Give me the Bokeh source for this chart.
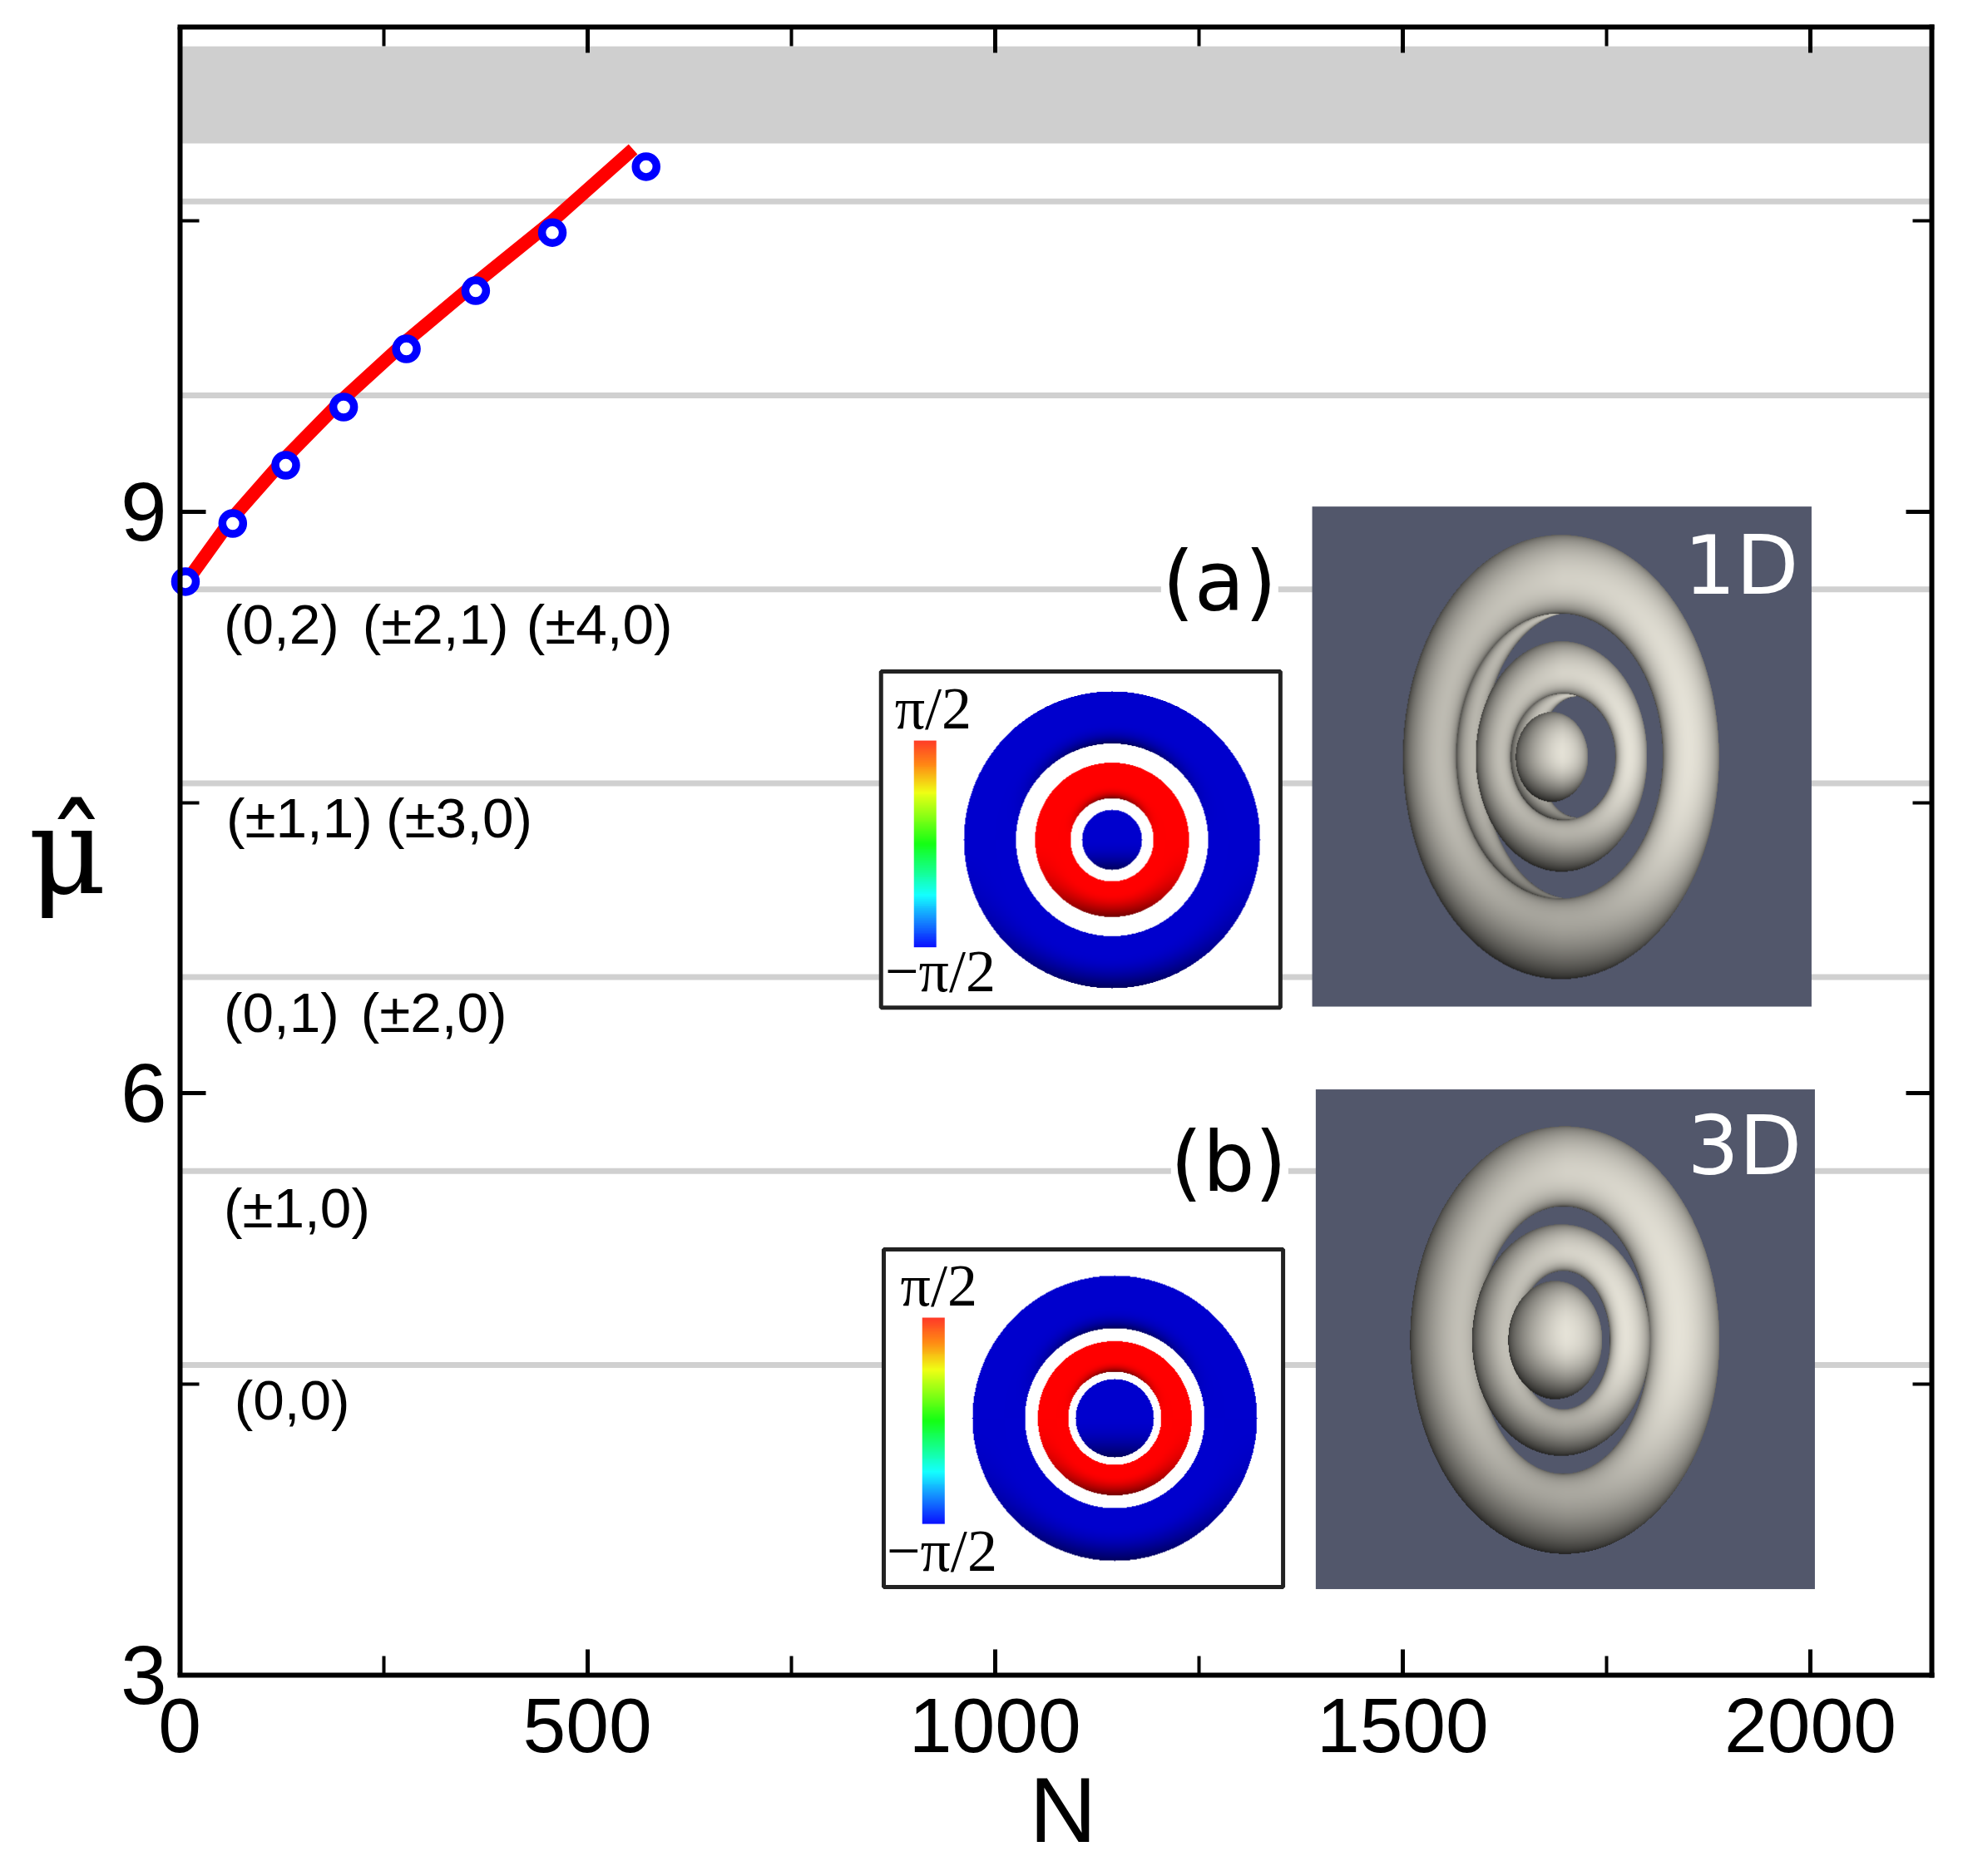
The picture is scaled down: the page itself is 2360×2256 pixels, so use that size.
from bokeh.core.properties import value
from bokeh.embed import file_html
from bokeh.models import FixedTicker, LinearAxis, Range1d, Title
from bokeh.plotting import figure
from bokeh.resources import INLINE
import numpy as np

# values
line_n = [5, 65, 130, 200, 278, 363, 457, 556]
line_mu = [8.62, 8.97, 9.28, 9.58, 9.88, 10.18, 10.50, 10.87]
point_n = [7, 65, 130, 201, 278, 363, 457, 572]
point_mu = [8.64, 8.94, 9.24, 9.54, 9.84, 10.14, 10.44, 10.78]
levels = [4.6, 5.6, 6.6, 7.6, 8.6, 9.6, 10.6]
band = [10.9, 11.4]

n_max = 2149
x_major = [0, 500, 1000, 1500, 2000]
x_minor = [250, 750, 1250, 1750]
y_major = [3, 6, 9]
y_minor = [4.5, 7.5, 10.5]

mode_text = ["(0,2)", "(±2,1)", "(±4,0)", "(±1,1)", "(±3,0)", "(0,1)", "(±2,0)", "(±1,0)", "(0,0)"]
mode_x = [54, 224, 425, 57, 253, 54, 222, 54, 67]
mode_y = [8.42, 8.42, 8.42, 7.42, 7.42, 6.42, 6.42, 5.41, 4.42]

panel_text = ["(a)", "(b)"]
panel_x = [1205, 1215]
panel_y = [8.64, 5.645]
dim_text = ["1D", "3D"]
dim_x = [1845, 1849]
dim_y = [8.725, 5.73]
bar_text = ["π/2", "−π/2", "π/2", "−π/2"]
bar_x = [877, 865, 884, 867]
bar_y = [7.985, 6.63, 5.01, 3.64]

# screen px per data unit, used for the inset pictures
px_x = 0.98
px_y = 233.2

# inset boxes, x0 x1 y0 y1 in data units
box_a = [860.2, 1350, 6.443, 8.176]
box_b = [863.5, 1353.3, 3.4545, 5.196]
cbar_a = [900.5, 928, 6.754, 7.82]
cbar_b = [910.7, 938.3, 3.78, 4.844]
view_a = [1389, 2001.5, 6.448, 9.027]
view_b = [1393.4, 2005.6, 3.444, 6.021]

# radii in px of the phase pictures: blue out, gap, red out, red in, blue in
disk_a = dict(x=1143, y=7.308, r=[178, 115.5, 92.5, 50, 36])
disk_b = dict(x=1146.3, y=4.325, r=[171, 108, 92.5, 56, 47])

# rings in px from view centre: outer ellipse, then hole (cx, cy, a, b)
rings_a = [((-3.5, -1, 124.5, 172), (12.7, -1.4, 108.5, 172)),
           ((-1.6, 0, 190, 267), (-3.5, -1, 124, 171.5)),
           ((0.8, 0, 63.5, 76.5), (18, 0, 46, 72.6)),
           ((-1, -0.6, 103, 138.5), (0.8, 0, 63, 76))]
ball_a = (-12.6, 0, 43.5, 54)
rings_b = [((-1.2, 1, 186, 256.7), (-3, 1, 103, 160.5)),
           ((-5.6, 1, 107, 139), (-3, 1, 56, 83))]
ball_b = (-12.7, 1, 56.5, 71)

bar_stops = [0, 0.12, 0.25, 0.5, 0.62, 0.75, 0.87, 1]
bar_r = [255, 255, 240, 20, 20, 20, 20, 10]
bar_g = [60, 140, 255, 255, 255, 255, 140, 20]
bar_b = [40, 20, 20, 20, 130, 255, 255, 255]

surface = np.array([232, 229, 218])
view_bg = np.array([82, 87, 107])


def to_rgba(rgb):
    h, w = rgb.shape[:2]
    out = np.full((h, w, 4), 255, dtype=np.uint8)
    out[:, :, :3] = np.clip(rgb, 0, 255).astype(np.uint8)
    return out[::-1].view(dtype=np.uint32).reshape(h, w)


def ring_normal(X, Y, outer, hole):
    d_o = np.hypot((X - outer[0]) / outer[2], (Y - outer[1]) / outer[3])
    if hole is None:
        mask = d_o <= 1
        s = np.clip(d_o, 0, 1)
    else:
        d_i = np.hypot((X - hole[0]) / hole[2], (Y - hole[1]) / hole[3])
        mask = (d_o <= 1) & (d_i >= 1)
        t = (d_i - 1) / np.maximum(d_i - d_o, 1e-6)
        s = 2 * np.clip(t, 0, 1) - 1
    rx = (X - outer[0]) / outer[2] ** 2
    ry = (Y - outer[1]) / outer[3] ** 2
    rn = np.maximum(np.hypot(rx, ry), 1e-9)
    return mask, s * rx / rn, s * ry / rn, np.sqrt(np.maximum(1 - s * s, 0))


def render_view(view, rings, ball):
    w = int(round((view[1] - view[0]) * px_x))
    h = int(round((view[3] - view[2]) * px_y))
    Y, X = np.mgrid[0:h, 0:w]
    X = X - w / 2
    Y = Y - h / 2
    rgb = np.ones((h, w, 3)) * view_bg
    for outer, hole in rings + [(ball, None)]:
        mask, nx, ny, nz = ring_normal(X, Y, outer, hole)
        shade = np.clip(0.35 + 0.65 * (0.15 * nx - 0.15 * ny + 0.97 * nz), 0.3, 1)
        # rough light falloff seen in the render: dark below, greyer left and top
        fx = np.clip(-X / outer[2], 0, 1)
        fy = np.clip(Y / outer[3], -1, 1)
        shade = shade * (1 - 0.22 * fx) * (1 - 0.48 * np.clip(fy, 0, 1) ** 2) * (1 - 0.12 * np.clip(-fy, 0, 1) ** 2)
        rgb[mask] = (shade[:, :, None] * surface)[mask]
    return to_rgba(rgb)


def render_disk(radii):
    n = int(radii[0]) * 2 + 2
    Y, X = np.mgrid[0:n, 0:n]
    X = X - n / 2
    Y = Y - n / 2
    rgb = np.ones((n, n, 3)) * 255
    parts = [(radii[0], radii[1], (0, 0, 205)), (radii[2], radii[3], (255, 0, 0)), (radii[4], None, (0, 0, 205))]
    for ro, ri, col in parts:
        outer = (0, 0, ro, ro)
        hole = None if ri is None else (0, 0, ri, ri)
        mask, nx, ny, nz = ring_normal(X, Y, outer, hole)
        shade = 1 - 0.55 * np.clip(ny, 0, 1) ** 2
        rgb[mask] = (shade[:, :, None] * np.array(col))[mask]
    return to_rgba(rgb)


def render_bar():
    t = np.linspace(0, 1, 128)
    col = np.stack([np.interp(t, bar_stops, c) for c in (bar_r, bar_g, bar_b)], axis=1)
    return to_rgba(col[:, None, :])


# x range starts below 0 so the first marker can sit over the left axis
p = figure(width=2352, height=2248, output_backend="svg", toolbar_location=None,
           x_range=Range1d(-20, n_max), y_range=Range1d(3, 11.5),
           min_border_left=196, min_border_right=30, min_border_top=32, min_border_bottom=234)
p.grid.visible = False
p.outline_line_color = None

p.quad(left=[0], right=[n_max], bottom=[band[0]], top=[band[1]], fill_color="#cfcfcf", line_color=None)
p.segment(x0=[0] * len(levels), x1=[n_max] * len(levels), y0=levels, y1=levels, line_color="#d0d0d0", line_width=7)

# gaps in the level lines round (a) and (b)
p.quad(left=[1203.6, 1215.8], right=[1347.4, 1359.7], bottom=[8.55, 5.55], top=[8.65, 5.65],
       fill_color="white", line_color=None)

for box in (box_a, box_b):
    p.quad(left=[box[0]], right=[box[1]], bottom=[box[2]], top=[box[3]],
           fill_color="white", line_color="#222222", line_width=5)
for cb in (cbar_a, cbar_b):
    p.image_rgba(image=[render_bar()], x=cb[0], y=cb[2], dw=cb[1] - cb[0], dh=cb[3] - cb[2], level="glyph")
for disk in (disk_a, disk_b):
    im = render_disk(disk["r"])
    dw = im.shape[1] / px_x
    dh = im.shape[0] / px_y
    p.image_rgba(image=[im], x=disk["x"] - dw / 2, y=disk["y"] - dh / 2, dw=dw, dh=dh, level="glyph")
for view, rings, ball in ((view_a, rings_a, ball_a), (view_b, rings_b, ball_b)):
    p.image_rgba(image=[render_view(view, rings, ball)], x=view[0], y=view[2],
                 dw=view[1] - view[0], dh=view[3] - view[2], level="glyph")

p.line(line_n, line_mu, line_color="#ff0000", line_width=16)
p.scatter(point_n, point_mu, size=25, marker="circle", fill_color="white", line_color="#0000ff", line_width=9.5)

p.text(mode_x, mode_y, text=mode_text, text_font=value("Liberation Sans"), text_font_size="67.5px",
       text_color="black", text_baseline="middle")
p.text(panel_x, panel_y, text=panel_text, text_font=value("DejaVu Sans"), text_font_size="99px",
       text_color="black", text_baseline="middle")
p.text(dim_x, dim_y, text=dim_text, text_font=value("DejaVu Sans"), text_font_size="98px",
       text_color="white", text_baseline="middle")
p.text(bar_x, bar_y, text=bar_text, text_font=value("Liberation Serif"), text_font_size="72px",
       text_color="black", text_baseline="middle")

x_ticks = FixedTicker(ticks=x_major, minor_ticks=x_minor)
y_ticks = FixedTicker(ticks=y_major, minor_ticks=y_minor)
no_x_labels = {v: "" for v in x_major}
no_y_labels = {v: "" for v in y_major}

below = p.below[0]
below.ticker = x_ticks
below.bounds = (0, n_max)
below.major_label_standoff = 28

# the left axis line sits at N=0, inside the frame; a second axis only carries the labels
left = p.left[0]
left.ticker = y_ticks
left.fixed_location = 0
left.major_label_overrides = no_y_labels

y_labels = LinearAxis(ticker=y_ticks, axis_line_color=None, major_tick_line_color=None, minor_tick_line_color=None,
                      major_label_standoff=-10, major_label_text_font="Liberation Sans",
                      major_label_text_font_size="100px", major_label_text_color="black",
                      axis_label="μ̂", axis_label_orientation="horizontal", axis_label_standoff=14,
                      axis_label_text_font="DejaVu Serif", axis_label_text_font_style="normal",
                      axis_label_text_font_size="145px", axis_label_text_color="black",
                      axis_label_text_baseline="alphabetic")
p.add_layout(y_labels, "left")

above = LinearAxis(ticker=x_ticks, bounds=(0, n_max), major_label_overrides=no_x_labels, major_label_standoff=0)
right = LinearAxis(ticker=y_ticks, major_label_overrides=no_y_labels, major_label_standoff=0)
p.add_layout(above, "above")
p.add_layout(right, "right")

for ax in (below, left, above, right):
    ax.axis_line_width = 6
    ax.axis_line_color = "black"
    ax.axis_line_cap = "square"
    ax.major_tick_line_width = 5
    ax.minor_tick_line_width = 4
    ax.major_tick_line_color = "black"
    ax.minor_tick_line_color = "black"
    ax.major_tick_in = 31
    ax.major_tick_out = 0
    ax.minor_tick_in = 23
    ax.minor_tick_out = 0
below.major_label_text_font = "Liberation Sans"
below.major_label_text_font_size = "93px"
below.major_label_text_color = "black"

# N sits a little right of the frame centre because the frame starts left of N=0
p.add_layout(Title(text="N", align="left", offset=1041, standoff=4, text_font="Liberation Sans",
                   text_font_style="normal", text_font_size="112px", text_color="black"), "below")

open("out.html", "w").write(file_html(p, INLINE))
